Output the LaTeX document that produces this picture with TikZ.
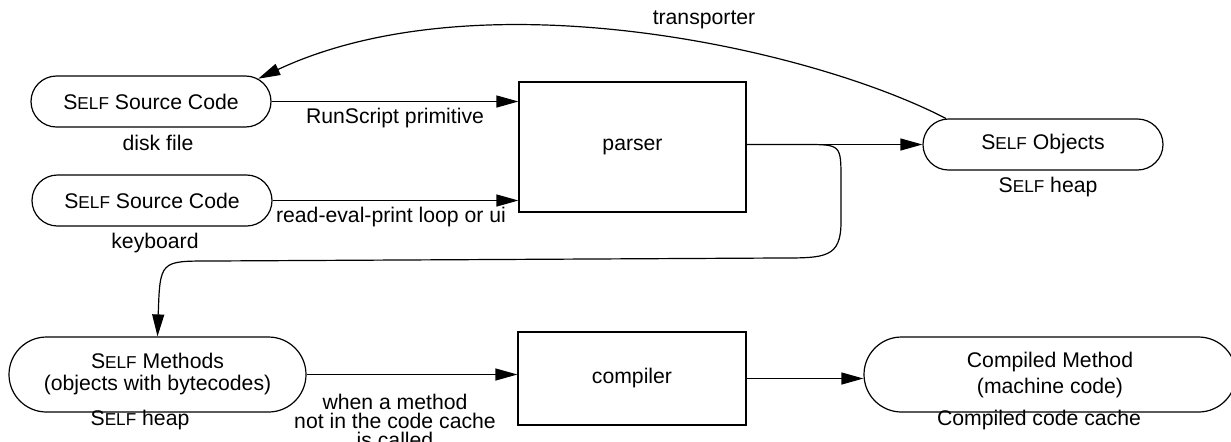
\documentclass[tikz,border=0pt]{standalone}
\usepackage{fontspec}
\setmainfont{Liberation Sans}
\usetikzlibrary{shapes.misc,arrows.meta}
\newcommand\selfword{S{\fontsize{8.6}{10}\selectfont ELF}}

\begin{document}
\begin{tikzpicture}[x=0.5pt,y=-0.5pt,
  every node/.style={font=\fontsize{10.6}{12}\selectfont},
  pill/.style={draw,rounded rectangle,inner sep=0pt,line width=0.6pt},
  box/.style={draw,rectangle,inner sep=0pt,line width=0.6pt},
  arr/.style={-{Triangle[length=11pt,width=6pt]},line width=0.6pt}]
\useasboundingbox (0,0) rectangle (1231,441);
\clip (0,0) rectangle (1231,441);
\node[pill,minimum width=120pt,minimum height=25.5pt] (src1) at (151,101.5) {\selfword{} Source Code};
\node (disk) at (158,143) {disk file};
\node[pill,minimum width=120pt,minimum height=25.5pt] (src2) at (152,200.5) {\selfword{} Source Code};
\node (keyb) at (155,243) {keyboard};
\node[box,minimum width=113.5pt,minimum height=65pt] (parser) at (632.5,147) {parser};
\node[pill,minimum width=120pt,minimum height=25.5pt] (objs) at (1043,144.5) {\selfword{} Objects};
\node (objheap) at (1048,187) {\selfword{} heap};
\node (trans) at (704,20) {transporter};
\node (runscr) at (395,118) {RunScript primitive};
\node (repl) at (391,217) {read-eval-print loop or ui};
\node[pill,minimum width=148.5pt,minimum height=37.5pt,align=center,font=\fontsize{10.6}{11}\selectfont] (methods) at (157.5,374.5) {\selfword{} Methods\\(objects with bytecodes)};
\node (methheap) at (140,420) {\selfword{} heap};
\node[box,minimum width=114pt,minimum height=46.5pt] (compiler) at (632,378.5) {compiler};
\node[align=center,font=\fontsize{10.6}{9.6}\selectfont] (when) at (395,421) {when a method\\not in the code cache\\is called};
\node[pill,minimum width=186pt,minimum height=37.5pt,align=center,font=\fontsize{10.6}{13}\selectfont] (compiled) at (1050,374.5) {Compiled Method\\(machine code)};
\node (cache) at (1039,420) {Compiled code cache};
\coordinate (split) at (parser.east |- objs);
\draw[arr] (src1.east) -- (src1.east -| parser.west);
\draw[arr] (src2.east) -- (src2.east -| parser.west);
\draw[arr] (split) -- (objs.west);
\draw[arr] (objs.165) .. controls (810,48) and (480,-25) .. (src1.12);
\draw[arr] (split) -- (805,144.5) .. controls (841,144.5) .. (841,180) -- (841,222)
  .. controls (841,258) and (825,258) .. (780,258) -- (210,261) .. controls (160,261) .. (methods.north);
\draw[arr] (methods.east) -- (methods.east -| compiler.west);
\draw[arr] (compiler.east) -- (compiler.east -| compiled.west);
\end{tikzpicture}
\end{document}
